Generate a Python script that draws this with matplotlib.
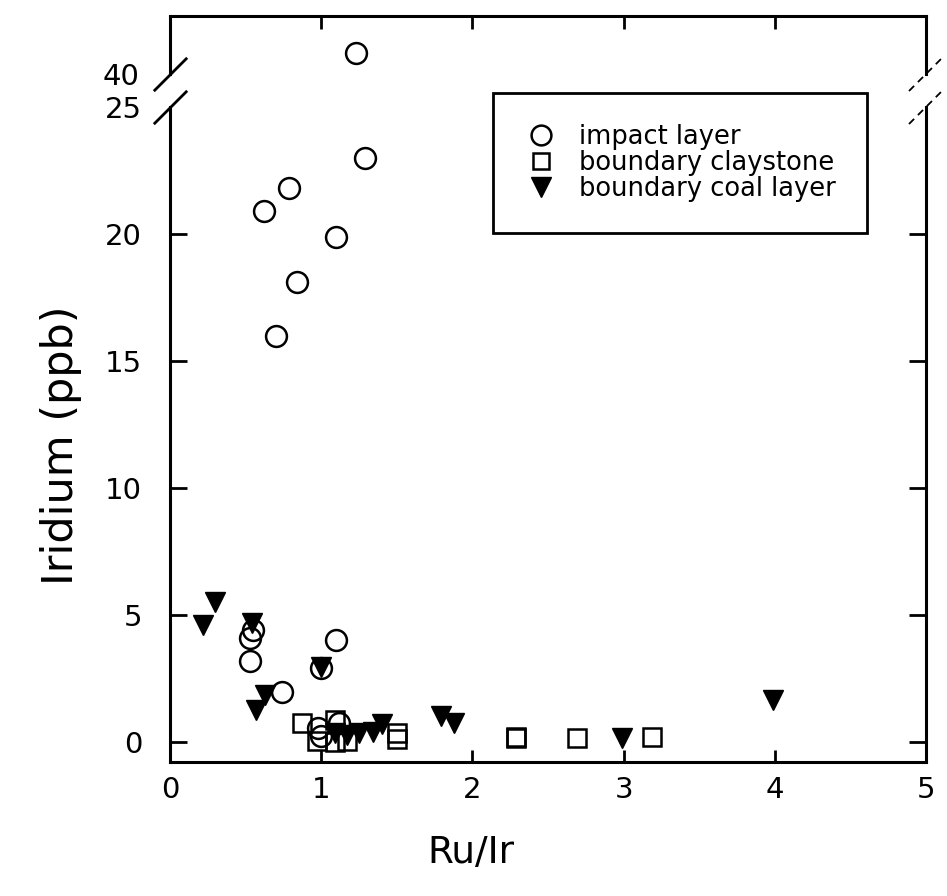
import matplotlib
matplotlib.use("Agg")
import matplotlib.pyplot as plt

# ---------------- data ----------------
impact_x = [1.23, 1.29, 0.79, 0.62, 1.10, 0.84, 0.70, 0.55, 0.53, 0.53, 1.10, 1.00, 0.74, 0.98, 1.00, 1.12]
impact_y = [40.85, 23.0, 21.8, 20.9, 19.9, 18.1, 16.0, 4.4, 4.1, 3.2, 4.0, 2.9, 1.95, 0.55, 0.25, 0.75]

clay_x = [0.87, 1.09, 0.97, 1.09, 1.17, 1.50, 1.50, 2.29, 2.29, 2.69, 3.19]
clay_y = [0.75, 0.85, 0.05, 0.0, 0.05, 0.35, 0.1, 0.2, 0.15, 0.15, 0.2]

coal_x = [0.30, 0.22, 0.54, 1.00, 0.63, 0.57, 1.09, 1.17, 1.25, 1.34, 1.40, 1.79, 1.88, 2.99, 3.99]
coal_y = [5.5, 4.6, 4.7, 2.95, 1.85, 1.25, 0.35, 0.28, 0.35, 0.4, 0.72, 1.03, 0.76, 0.15, 1.65]

labels = ["impact layer", "boundary claystone", "boundary coal layer"]
x_ticks = [0, 1, 2, 3, 4, 5]
y_ticks_low = [0, 5, 10, 15, 20, 25]
y_ticks_up = [40]

# ---------------- layout ----------------
W, H = 947, 896
fig = plt.figure(figsize=(W / 100, H / 100), dpi=100)


def rect(l, t, r, b):
    return [l / W, 1 - b / H, (r - l) / W, (b - t) / H]


ax = fig.add_axes(rect(170, 107, 926, 762))
axu = fig.add_axes(rect(170, 16, 926, 74), sharex=ax)

SPINE_W = 2.2
for a in (ax, axu):
    for s in a.spines.values():
        s.set_linewidth(SPINE_W)
ax.spines["top"].set_visible(False)
axu.spines["bottom"].set_visible(False)

ax.set_xlim(0, 5)
ax.set_ylim(-0.79, 25)
axu.set_ylim(40, 42.3)

handles = []
for a in (ax, axu):
    h1, = a.plot(impact_x, impact_y, linestyle="none", marker="o", markersize=15,
                 mfc="none", mec="k", mew=1.8)
    h2, = a.plot(clay_x, clay_y, linestyle="none", marker="s", markersize=12.5,
                 mfc="none", mec="k", mew=1.8)
    h3, = a.plot(coal_x, coal_y, linestyle="none", marker="v", markersize=15,
                 mfc="k", mec="k", mew=1.0)
    if a is ax:
        handles = [h1, h2, h3]

# ticks
ax.set_xticks(x_ticks)
ax.set_xticklabels([str(t) for t in x_ticks])
ax.tick_params(axis="x", direction="in", length=9, width=2, top=False, bottom=True,
               labelsize=21, pad=10)
ax.set_yticks(y_ticks_low)
ax.set_yticklabels([str(t) for t in y_ticks_low])
ax.tick_params(axis="y", direction="in", length=12, width=2, left=True, right=True,
               labelsize=21, pad=20)
for t in ax.yaxis.get_major_ticks():
    if t.get_loc() == 25:
        t.tick1line.set_visible(False)
        t.tick2line.set_visible(False)

axu.tick_params(axis="x", direction="in", length=9, width=2, top=True, bottom=False,
                labeltop=False, labelbottom=False)
axu.set_yticks(y_ticks_up)
axu.set_yticklabels([str(t) for t in y_ticks_up])
axu.tick_params(axis="y", length=0, left=True, right=False, labelsize=21, pad=22)

ax.set_xlabel("Ru/Ir", fontsize=27)
ax.xaxis.set_label_coords(0.398, -0.112)
ax.set_ylabel("Iridium (ppb)", fontsize=31)
ax.yaxis.set_label_coords(-0.116, 0.484)

# break marks
kw = dict(marker=[(-1, -1), (1, 1)], markersize=24, linestyle="none",
          color="k", mec="k", mew=2, clip_on=False)
ax.plot([0], [1], transform=ax.transAxes, **kw)
axu.plot([0], [0], transform=axu.transAxes, **kw)
dx = 17 / 756
ax.plot([1 - dx, 1 + dx], [1 - 17 / 655, 1 + 17 / 655], transform=ax.transAxes,
        color="k", lw=1.3, ls=(0, (4, 3)), clip_on=False)
axu.plot([1 - dx, 1 + dx], [-17 / 58, 17 / 58], transform=axu.transAxes,
         color="k", lw=1.3, ls=(0, (4, 3)), clip_on=False)

# legend
leg = fig.legend(handles, labels, loc="upper left",
                 bbox_to_anchor=(493 / W, 1 - 93 / H), bbox_transform=fig.transFigure,
                 frameon=True, fancybox=False, edgecolor="k", framealpha=1,
                 fontsize=18.5, borderpad=1.2, labelspacing=0.0, handlelength=1.3,
                 handletextpad=0.85, borderaxespad=0, markerscale=0.95)
leg.get_frame().set_linewidth(2)

fig.savefig("out.png", dpi=100)
